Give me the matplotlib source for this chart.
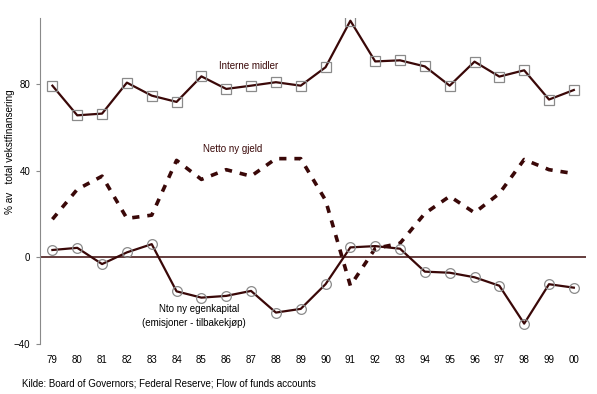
import numpy as np
import matplotlib
matplotlib.use('Agg')
import matplotlib.pyplot as plt

plt.rcParams['font.family'] = ['Liberation Sans', 'DejaVu Sans']

# år 1979-2000
aar = ['79', '80', '81', '82', '83', '84', '85', '86', '87', '88', '89',
       '90', '91', '92', '93', '94', '95', '96', '97', '98', '99', '00']

interne_midler = [79.3, 65.6, 66.4, 80.7, 74.7, 71.8, 83.6, 77.8, 79.3, 80.9, 79.3,
                  87.8, 109.3, 90.5, 91.0, 88.2, 79.3, 90.4, 83.5, 86.4, 72.9, 77.3]

netto_ny_gjeld = [17.6, 31.4, 37.5, 18.0, 19.5, 44.8, 36.0, 40.5, 37.5, 45.6, 45.6,
                  26.4, -13.1, 4.1, 6.5, 20.3, 28.2, 20.6, 29.5, 45.2, 40.5, 38.7]

egenkapital = [3.4, 4.4, -3.1, 2.3, 6.1, -15.7, -18.6, -17.8, -15.5, -25.5, -23.8,
               -12.4, 4.6, 5.2, 4.0, -6.6, -7.1, -9.2, -13.1, -30.6, -12.4, -14.0]

farge = '#3a0808'
x = np.arange(len(aar))

fig = plt.figure(figsize=(5.97, 3.94), dpi=100)
ax = fig.add_axes([0.067, 0.127, 0.915, 0.827])

ax.axhline(0, color=farge, lw=1.1, zorder=1)

ax.plot(x, interne_midler, color=farge, lw=1.6, marker='s', ms=7.5,
        mfc='none', mec='#8a8a8a', mew=0.9, zorder=3)
ax.plot(x, netto_ny_gjeld, color=farge, lw=2.6, dashes=(2, 2.2), zorder=2)
ax.plot(x, egenkapital, color=farge, lw=1.6, marker='o', ms=7,
        mfc='none', mec='#8a8a8a', mew=0.9, zorder=3)

ax.set_xlim(-0.5, 21.5)
ax.set_ylim(-40, 110.5)
ax.set_yticks([-40, 0, 40, 80])
ax.set_xticks(x)
ax.set_xticklabels(aar)
ax.tick_params(axis='x', length=0, pad=8, labelsize=7)
ax.tick_params(axis='y', length=3, color='#8a8a8a', labelsize=7, pad=4)

for s in ['top', 'right', 'bottom']:
    ax.spines[s].set_visible(False)
ax.spines['left'].set_color('#8a8a8a')

# y-akse tekst
fig.text(10 / 597, 1 - 152 / 394, '% av   total vekstfinansering', fontsize=7.2,
         rotation=90, ha='center', va='center')

ax.text(7.9, 88.2, 'Interne midler', fontsize=7, ha='center', va='center', color=farge)
ax.text(7.26, 49.9, 'Netto ny gjeld', fontsize=7, ha='center', va='center', color=farge)
ax.text(5.9, -23.8, 'Nto ny egenkapital', fontsize=7, ha='center', va='center', color='black')
ax.text(5.7, -30.1, '(emisjoner - tilbakekjøp)', fontsize=7, ha='center', va='center', color='black')

fig.text(22 / 597, 1 - 383 / 394, 'Kilde: Board of Governors; Federal Reserve; Flow of funds accounts',
         fontsize=7, ha='left', va='center')

fig.savefig('out.png', dpi=100)
